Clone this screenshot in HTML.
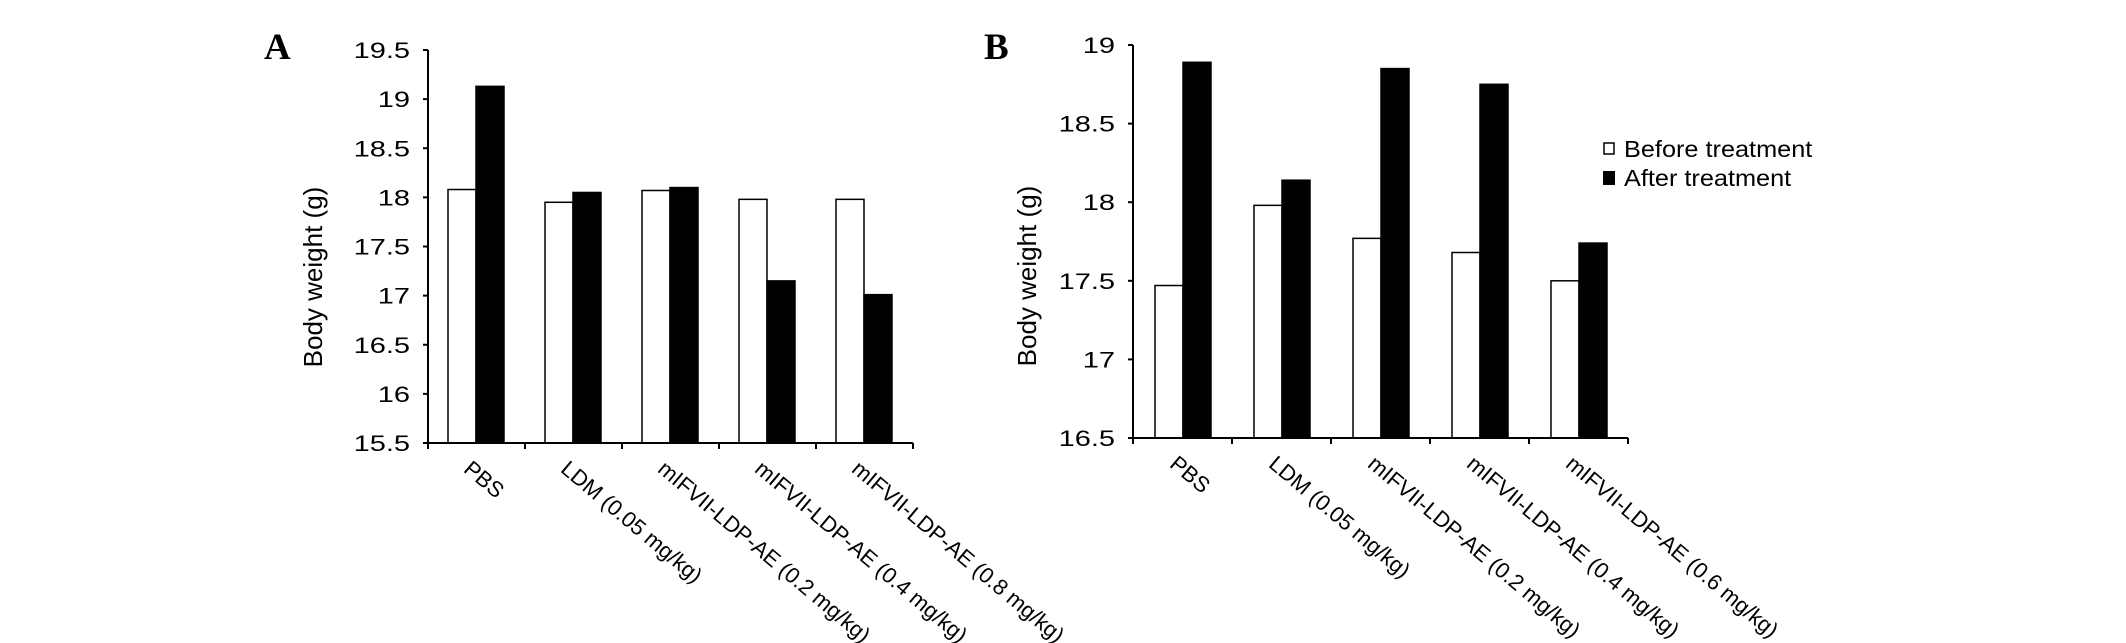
<!DOCTYPE html>
<html><head><meta charset="utf-8"><style>
html,body{margin:0;padding:0;background:#fff;}
svg{display:block;font-family:"Liberation Sans",Arial,sans-serif;}
</style></head><body>
<svg id="fig" width="2126" height="643" viewBox="0 0 2126 643"></svg>
<script>
const categoriesA = ["PBS","LDM (0.05 mg/kg)","mIFVII-LDP-AE (0.2 mg/kg)","mIFVII-LDP-AE (0.4 mg/kg)","mIFVII-LDP-AE (0.8 mg/kg)"];
const beforeA = [18.08, 17.95, 18.07, 17.98, 17.98];
const afterA = [19.13, 18.05, 18.10, 17.15, 17.01];
const ticksA = ["15.5","16","16.5","17","17.5","18","18.5","19","19.5"];
const categoriesB = ["PBS","LDM (0.05 mg/kg)","mIFVII-LDP-AE (0.2 mg/kg)","mIFVII-LDP-AE (0.4 mg/kg)","mIFVII-LDP-AE (0.6 mg/kg)"];
const beforeB = [17.47, 17.98, 17.77, 17.68, 17.50];
const afterB = [18.89, 18.14, 18.85, 18.75, 17.74];
const ticksB = ["16.5","17","17.5","18","18.5","19"];

const NS = "http://www.w3.org/2000/svg";
const svg = document.getElementById("fig");
function mk(tag, attrs, parent){
  const e = document.createElementNS(NS, tag);
  for (const k in attrs) e.setAttribute(k, attrs[k]);
  (parent||svg).appendChild(e);
  return e;
}
function drawPanel(p){
  const g = mk("g", {});
  
  
  const ymin = parseFloat(p.ticks[0]), ymax = parseFloat(p.ticks[p.ticks.length-1]);
  const y = v => p.bottom - (v - ymin) / (ymax - ymin) * (p.bottom - p.top);
  const n = p.cats.length;
  const x = i => p.left + i * p.cw;
  for (let i = 0; i < n; i++){
    const b = mk("rect", {x: x(i)+p.gap, y: y(p.before[i]), width: p.bw, height: y(ymin)-y(p.before[i]), fill:"#fff", stroke:"#000", "stroke-width":1.5}, g);
    
    
    const a = mk("rect", {x: x(i)+p.gap+p.bw, y: y(p.after[i]), width: p.bw, height: y(ymin)-y(p.after[i]), fill:"#000", stroke:"#000", "stroke-width":1.5}, g);
    
    
  }
  const ya = mk("line", {x1:p.left, y1:p.top, x2:p.left, y2:p.bottom, stroke:"#000", "stroke-width":2}, g);
  
  
  p.ticks.forEach(t => {
    const v = parseFloat(t);
    mk("line", {x1:p.left-5, y1:y(v), x2:p.left, y2:y(v), stroke:"#000", "stroke-width":2}, g);
    const tl = mk("text", {x:0, y:0, "text-anchor":"end", "font-size":20, fill:"#000",
      transform:"translate("+(p.left-18)+" "+(y(v)+8)+") scale(1.45 1.1)"}, g);
    tl.textContent = t;
    
    
  });
  const xa = mk("line", {x1:p.left, y1:p.bottom, x2:x(n), y2:p.bottom, stroke:"#000", "stroke-width":2}, g);
  
  
  for (let i = 0; i <= n; i++){
    mk("line", {x1:x(i), y1:p.bottom, x2:x(i), y2:p.bottom+6, stroke:"#000", "stroke-width":2}, g);
  }
  p.cats.forEach((c, i) => {
    const cx = x(i) + p.cw/2 - 14, cy = p.bottom + 28;
    const t = mk("text", {x:cx, y:cy, "font-size":22, fill:"#000", transform:"rotate(40 "+cx+" "+cy+")"}, g);
    t.textContent = c;
    
    
  });
  const yl = mk("text", {x:p.ylx, y:p.yly, "font-size":26, "text-anchor":"middle", fill:"#000", transform:"rotate(-90 "+p.ylx+" "+p.yly+")"}, g);
  yl.textContent = "Body weight (g)";
  
  
  const pl = mk("text", {x:p.lx, y:59, "font-size":37, "font-weight":"bold", "font-family":"Liberation Serif, serif", fill:"#000"}, g);
  pl.textContent = p.letter;
  
  
}
drawPanel({name:"panel-a", cats:categoriesA, before:beforeA, after:afterA, ticks:ticksA,
  left:428, top:50, bottom:443, cw:97, gap:20, bw:28, ylx:322, yly:277, lx:264, letter:"A"});
drawPanel({name:"panel-b", cats:categoriesB, before:beforeB, after:afterB, ticks:ticksB,
  left:1133, top:45, bottom:438, cw:99, gap:22, bw:28, ylx:1036, yly:276, lx:984, letter:"B"});

const lg = mk("g", {});


const s1 = mk("rect", {x:1604, y:143, width:10, height:11, fill:"#fff", stroke:"#000", "stroke-width":1.5}, lg);


const t1 = mk("text", {x:0, y:0, "font-size":23, fill:"#000", transform:"translate(1624 157) scale(1.1 1)"}, lg);
t1.textContent = "Before treatment";


const s2 = mk("rect", {x:1603, y:171, width:12, height:14, fill:"#000"}, lg);


const t2 = mk("text", {x:0, y:0, "font-size":23, fill:"#000", transform:"translate(1624 186) scale(1.1 1)"}, lg);
t2.textContent = "After treatment";


</script>
</body></html>
